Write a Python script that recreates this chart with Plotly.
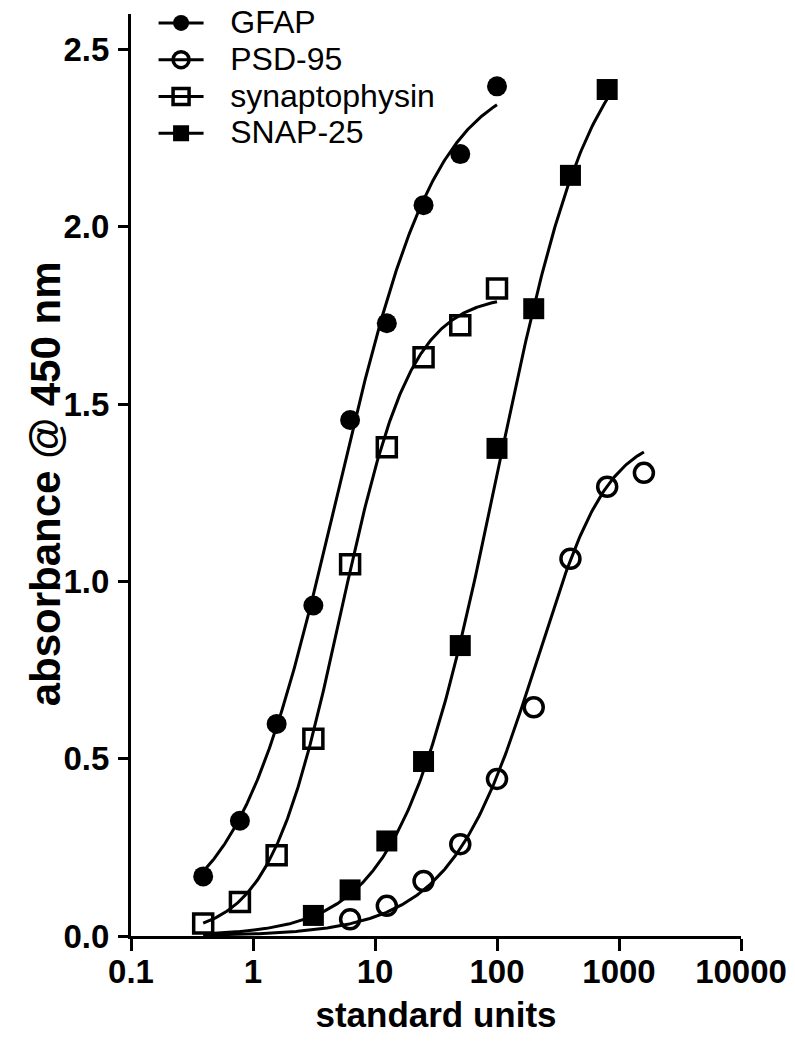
import numpy as np
import plotly.graph_objects as go

# ---- data ----
gfap_x = [0.390625, 0.78125, 1.5625, 3.125, 6.25, 12.5, 25, 50, 100]
gfap_y = [0.168, 0.325, 0.598, 0.932, 1.455, 1.728, 2.061, 2.205, 2.396]

psd_x = [6.25, 12.5, 25, 50, 100, 200, 400, 800, 1600]
psd_y = [0.047, 0.085, 0.155, 0.259, 0.443, 0.645, 1.064, 1.267, 1.306]

syn_x = [0.390625, 0.78125, 1.5625, 3.125, 6.25, 12.5, 25, 50, 100]
syn_y = [0.035, 0.096, 0.228, 0.556, 1.048, 1.378, 1.632, 1.722, 1.826]

snap_x = [3.125, 6.25, 12.5, 25, 50, 100, 200, 400, 800]
snap_y = [0.058, 0.130, 0.268, 0.492, 0.819, 1.375, 1.769, 2.145, 2.387]

# fitted logistic curves: [bottom, top, ec50, hill, asymmetry], [x_start, x_end]
gfap_fit = [0.02, 2.44, 4.8, 1.05, 1.0]
gfap_span = [0.390625, 100]
psd_fit = [0.0, 1.42, 299, 1.6, 0.6]
psd_span = [0.390625, 1600]
syn_fit = [0.0, 1.81, 5.2, 1.5, 1.0]
syn_span = [0.390625, 100]
snap_fit = [0.0, 2.6, 100, 1.1, 1.0]
snap_span = [0.390625, 800]

x_ticks = [0.1, 1, 10, 100, 1000, 10000]
x_ticktext = ["0.1", "1", "10", "100", "1000", "10000"]
y_ticks = [0.0, 0.5, 1.0, 1.5, 2.0, 2.5]

names = ["GFAP", "PSD-95", "synaptophysin", "SNAP-25"]
x_title = "standard units"
y_title = "absorbance @ 450 nm"


def logistic(x, p):
    b, t, c, h, s = p
    return b + (t - b) / (1 + (c / x) ** h) ** s


FONT = "Arial, 'Liberation Sans', sans-serif"
NB = "\u00a0"

fig = go.Figure()

series = [
    (gfap_x, gfap_y, gfap_fit, gfap_span, dict(symbol="circle", size=20, color="black")),
    (psd_x, psd_y, psd_fit, psd_span,
     dict(symbol="circle-open", size=19, color="black", line=dict(width=3.5, color="black"))),
    (syn_x, syn_y, syn_fit, syn_span,
     dict(symbol="square-open", size=19, color="black", line=dict(width=3.5, color="black"))),
    (snap_x, snap_y, snap_fit, snap_span, dict(symbol="square", size=21, color="black")),
]

# fitted curves
for (xs, ys, fit, span, mk), nm in zip(series, names):
    xc = np.logspace(np.log10(span[0]), np.log10(span[1]), 300)
    fig.add_trace(go.Scatter(x=xc, y=logistic(xc, fit), mode="lines",
                             line=dict(color="black", width=3), showlegend=False,
                             hoverinfo="skip"))

# data markers
for (xs, ys, fit, span, mk), nm in zip(series, names):
    fig.add_trace(go.Scatter(x=xs, y=ys, mode="markers", marker=mk, name=nm,
                             showlegend=False, cliponaxis=False))

# legend entries (line + marker)
for (xs, ys, fit, span, mk), nm in zip(series, names):
    fig.add_trace(go.Scatter(x=[None], y=[None], mode="lines+markers", marker=mk,
                             line=dict(color="black", width=3),
                             name=NB * 3 + '<span style="font-size:32px">' + nm + "</span>"))

fig.update_layout(
    width=795, height=1050,
    margin=dict(l=131, r=54, t=14, b=114, autoexpand=False),
    paper_bgcolor="white", plot_bgcolor="white",
    font=dict(family=FONT, color="black"),
    legend=dict(x=0.037, y=1.0157, xanchor="left", yanchor="top",
                font=dict(size=26, family=FONT, color="black"),
                itemwidth=45, bgcolor="rgba(0,0,0,0)", tracegroupgap=0),
    showlegend=True,
    annotations=[dict(text=y_title, textangle=-90, xref="paper", yref="paper",
                      x=-0.141, y=0.491, xanchor="center", yanchor="middle",
                      showarrow=False,
                      font=dict(size=42, family=FONT, weight="bold", color="black"))],
)

fig.update_xaxes(
    type="log", range=[-1, 4], tickvals=x_ticks, ticktext=x_ticktext,
    showgrid=False, zeroline=False, showline=True, linecolor="black", linewidth=3,
    ticks="outside", ticklen=12, tickwidth=3, tickcolor="black",
    ticklabelstandoff=-8,
    tickfont=dict(size=33, family=FONT, weight="bold", color="black"),
    title=dict(text=x_title, font=dict(size=35, family=FONT, weight="bold"),
               standoff=14),
)
fig.update_yaxes(
    range=[0, 2.6], tickvals=y_ticks, tickformat=".1f",
    showgrid=False, zeroline=False, showline=True, linecolor="black", linewidth=3,
    ticks="outside", ticklen=10, tickwidth=3, tickcolor="black",
    ticklabelstandoff=2,
    tickfont=dict(size=33, family=FONT, weight="bold", color="black"),
)

fig.write_html("out.html", config={"displayModeBar": False},
               post_script="document.body.style.margin='0px';")
